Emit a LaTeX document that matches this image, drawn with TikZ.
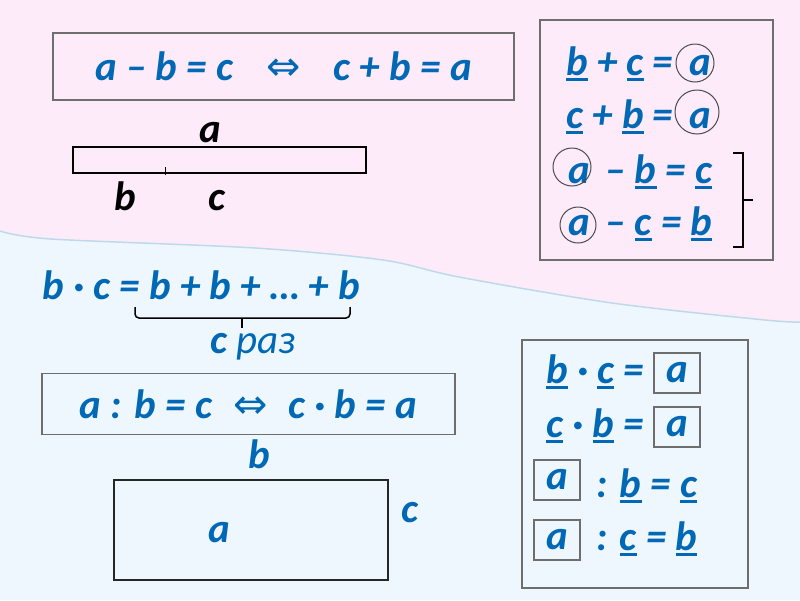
\documentclass[tikz,border=0pt]{standalone}
\usepackage{fontspec}
\setmainfont{Carlito}
\newfontfamily\arrowfont{DejaVu Sans}
\usetikzlibrary{positioning}

\definecolor{eqblue}{RGB}{0,104,180}
\definecolor{pinkbg}{RGB}{253,235,250}
\definecolor{bluebg}{RGB}{238,247,254}
\definecolor{framegray}{RGB}{110,110,110}
\definecolor{waveline}{RGB}{190,218,234}

% underline of a single letter
\newcommand{\ulu}[1]{\setbox0\hbox{#1}\rlap{\rule[-6pt]{\wd0}{2.8pt}}\box0\relax}
\newcommand{\equivarrow}{{\arrowfont\mdseries\upshape ⇔}}

\tikzset{
  eqtext/.style={font=\fontsize{41}{46}\selectfont\bfseries\itshape, text=eqblue, inner sep=0pt},
  lbl/.style={eqtext, text=black},
  frame/.style={draw=framegray, line width=1.6pt},
  ring/.style={circle, draw=black!70, line width=1pt, inner sep=0pt},
  abox/.style={draw=framegray, line width=1.6pt, minimum width=46pt, minimum height=40pt}
}

\begin{document}
\begin{tikzpicture}[x=1pt, y=-1pt]
  \useasboundingbox (0,0) rectangle (800,600);
  % Background
  \fill[pinkbg] (0,0) rectangle (800,600);
  \fill[bluebg] plot[smooth] coordinates {(0,231) (51,239) (255,248) (383,260) (459,277) (612,303) (765,320) (800,322)}
    -- (800,600) -- (0,600) -- cycle;
  \draw[waveline, line width=1.5pt] plot[smooth] coordinates {(0,231) (51,239) (255,248) (383,260) (459,277) (612,303) (765,320) (800,322)};

  % Subtraction rule
  \node[eqtext, frame, minimum width=461pt, minimum height=67pt] (eqsub) at (283.5,66.5)
    {a – b = c\hspace{33pt}\equivarrow\hspace{33pt}c + b = a};
  \draw[line width=1.2pt] (73,147) rectangle (366,173);
  \draw[line width=1pt] (165,167) -- (165,175);
  \node[lbl, anchor=base] (lena) at (210,142) {a};
  \node[lbl, anchor=base] (lenb) at (125,210) {b};
  \node[lbl, anchor=base] (lenc) at (217,210) {c};

  % Sum box
  \node[frame, minimum width=233pt, minimum height=240pt] (sumbox) at (656.5,140) {};
  \node[eqtext, anchor=base west] (s1) at (566,75) {\ulu{b} + \ulu{c} =};
  \node[eqtext, anchor=base west] (s2) at (566,128) {\ulu{c} + \ulu{b} =};
  \node[eqtext, anchor=base west] (s3) at (605,183) {– \ulu{b} = \ulu{c}};
  \node[eqtext, anchor=base west] (s4) at (605,235) {– \ulu{c} = \ulu{b}};
  \foreach \nm/\px/\py in {a1/700/75, a2/700/128, a3/579/183, a4/579/235}
    \node[eqtext, anchor=base] (\nm) at (\px,\py) {a};
  \node[ring, minimum size=38pt] (o1) at (695,63) {};
  \node[ring, minimum size=44pt] (o2) at (697,112) {};
  \node[ring, minimum size=38pt] (o3) at (572,167) {};
  \node[ring, minimum size=36pt] (o4) at (578,225) {};
  \draw[line width=1.5pt] (733,153) -- (743,153) -- (743,247) -- (733,247);
  \draw[line width=1.5pt] (743,200) -- (753,200);

  % Product as a sum
  \node[eqtext, anchor=base west] (prod) at (42,299) {b · c = b + b + … + b};
  \draw[line width=1.5pt, rounded corners=4pt] (135,307) -- (135,318) -- (350,318) -- (350,307);
  \draw[line width=1.5pt] (242,318) -- (242,328);
  \node[eqtext, anchor=base] (times) at (253,353) {c \mdseries раз};

  % Division rule
  \node[eqtext, frame, minimum width=413pt, minimum height=61pt] (eqdiv) at (248.5,404)
    {a : b = c\hspace{21pt}\equivarrow\hspace{21pt}c · b = a};
  \node[draw=black!85, line width=1.5pt, minimum width=274pt, minimum height=100pt] (area) at (251,530) {};
  \node[eqtext, anchor=base] (sideb) at (259,468) {b};
  \node[eqtext, anchor=base] (areaa) at (219,542) {a};
  \node[eqtext, anchor=base] (sidec) at (410,522) {c};

  % Product box
  \node[frame, minimum width=226pt, minimum height=248pt] (mulbox) at (635,464) {};
  \node[eqtext, anchor=base west] (m1) at (546,383) {\ulu{b} · \ulu{c} =};
  \node[eqtext, anchor=base west] (m2) at (546,437) {\ulu{c} · \ulu{b} =};
  \node[eqtext, anchor=base west] (m3) at (596,497) {: \ulu{b} = \ulu{c}};
  \node[eqtext, anchor=base west] (m4) at (596,550) {: \ulu{c} = \ulu{b}};
  \node[eqtext, abox] (q1) at (677,373) {a};
  \node[eqtext, abox] (q2) at (677,427) {a};
  \node[eqtext, abox] (q3) at (557,480) {a};
  \node[eqtext, abox] (q4) at (557,540) {a};
\end{tikzpicture}
\end{document}
